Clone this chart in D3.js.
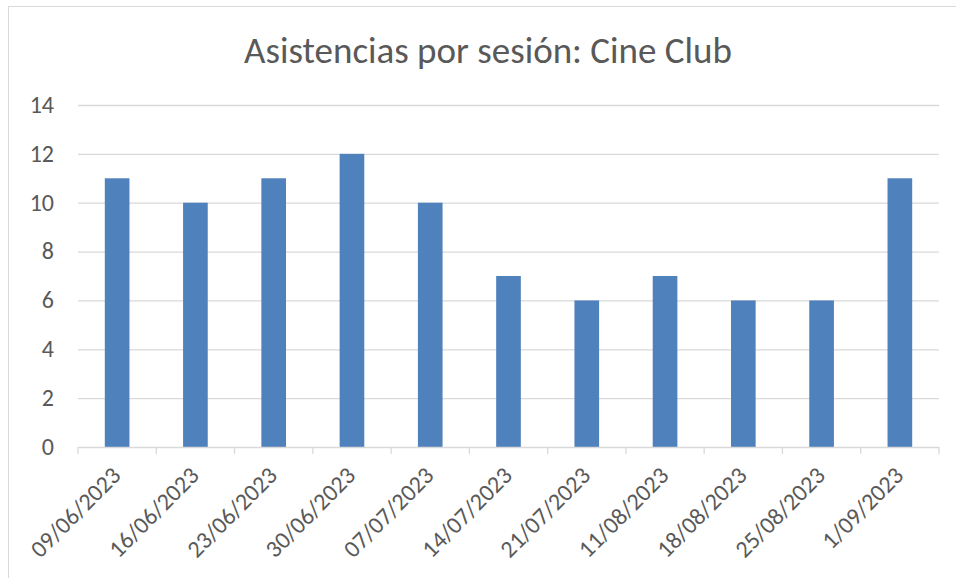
<!DOCTYPE html>
<html>
<head>
<meta charset="utf-8">
<script src="https://cdn.jsdelivr.net/npm/d3@7"></script>
<style>
  body { margin: 0; background: #fff; }
  text { font-family: Calibri, Carlito, "Liberation Sans", Arial, sans-serif; fill: #595959; }
</style>
</head>
<body>
<div id="chart"></div>
<script>
// Session dates and attendance
const sessions = ["09/06/2023", "16/06/2023", "23/06/2023", "30/06/2023", "07/07/2023",
  "14/07/2023", "21/07/2023", "11/08/2023", "18/08/2023", "25/08/2023", "1/09/2023"];
const attendance = [11, 10, 11, 12, 10, 7, 6, 7, 6, 6, 11];
const yTicks = [0, 2, 4, 6, 8, 10, 12, 14];

const width = 956;
const height = 578;
const margin = { top: 105, right: 17, bottom: 131, left: 78 };

const data = sessions.map(function (s, i) {
  return { session: s, value: attendance[i] };
});

let svg = d3.select("#chart")
  .append("svg")
  .attr("width", width)
  .attr("height", height);

// chart area border (runs off the right and bottom of the picture)
svg.append("rect")
  .attr("x", 8.5)
  .attr("y", 6.5)
  .attr("width", 1000)
  .attr("height", 1000)
  .attr("fill", "none")
  .attr("stroke", "#d9d9d9");

const x = d3.scaleBand()
  .domain(sessions)
  .range([margin.left, width - margin.right])
  .paddingInner(0.685)
  .paddingOuter(0.3425);

const y = d3.scaleLinear()
  .domain([0, 14])
  .range([height - margin.bottom, margin.top]);

// gridlines
svg.append("g")
  .selectAll("line")
  .data(yTicks.filter(d => d > 0))
  .enter()
  .append("line")
  .attr("x1", margin.left)
  .attr("x2", width - margin.right)
  .attr("y1", d => y(d) + 0.5)
  .attr("y2", d => y(d) + 0.5)
  .attr("stroke", "#d9d9d9")
  .attr("stroke-width", 1.3);

// y labels
svg.append("g")
  .selectAll("text")
  .data(yTicks)
  .enter()
  .append("text")
  .attr("x", 54)
  .attr("y", d => y(d))
  .attr("dy", "0.33em")
  .attr("text-anchor", "end")
  .attr("font-size", "24px")
  .text(d => d);

// bars
svg.append("g")
  .selectAll("rect")
  .data(data)
  .enter()
  .append("rect")
  .attr("x", d => x(d.session))
  .attr("y", d => y(d.value))
  .attr("width", x.bandwidth())
  .attr("height", d => y(0) - y(d.value))
  .attr("fill", "#4f81bd");

// x axis line and ticks at band edges
const edges = d3.range(sessions.length + 1).map(i => margin.left + i * (width - margin.right - margin.left) / sessions.length);
const axis = svg.append("g").attr("stroke", "#d9d9d9").attr("stroke-width", 1.3);
axis.append("line")
  .attr("x1", margin.left)
  .attr("x2", width - margin.right)
  .attr("y1", y(0) + 0.5)
  .attr("y2", y(0) + 0.5);
axis.selectAll("line.tick")
  .data(edges)
  .enter()
  .append("line")
  .attr("class", "tick")
  .attr("x1", d => d)
  .attr("x2", d => d)
  .attr("y1", y(0))
  .attr("y2", y(0) + 7);

// rotated date labels
svg.append("g")
  .selectAll("text")
  .data(sessions)
  .enter()
  .append("text")
  .attr("transform", d => `translate(${x(d) + x.bandwidth() / 2 + 5},${y(0) + 30}) rotate(-45)`)
  .attr("text-anchor", "end")
  .attr("font-size", "24px")
  .text(d => d);

// title
svg.append("text")
  .attr("x", 488)
  .attr("y", 63)
  .attr("text-anchor", "middle")
  .attr("font-size", "37px")
  .text("Asistencias por sesión: Cine Club");
</script>
</body>
</html>
